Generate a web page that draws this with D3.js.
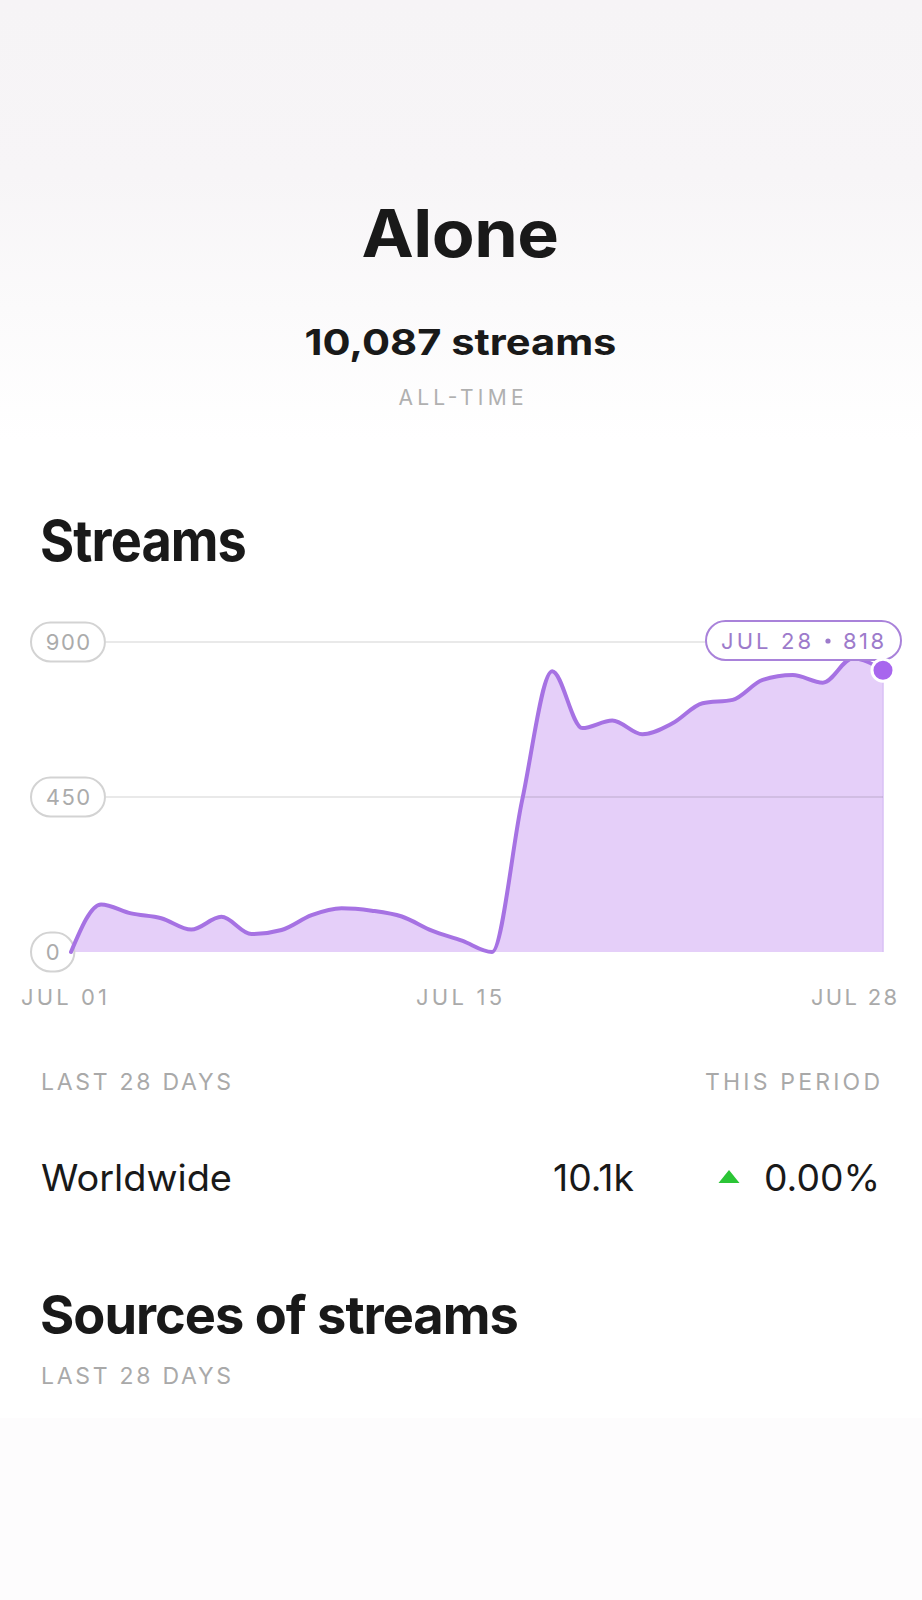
<!DOCTYPE html>
<html><head><meta charset="utf-8">
<script src="https://cdn.jsdelivr.net/npm/d3@7"></script>
<style>
html,body{margin:0;padding:0;background:#fff;}
svg{display:block;font-family:Inter,"Noto Sans",sans-serif;}
</style></head>
<body>
<svg id="c" width="922" height="1600"></svg>
<script>
// ---- data ----
const dayLabels = ["JUL 01","JUL 02","JUL 03","JUL 04","JUL 05","JUL 06","JUL 07","JUL 08","JUL 09","JUL 10","JUL 11","JUL 12","JUL 13","JUL 14","JUL 15","JUL 16","JUL 17","JUL 18","JUL 19","JUL 20","JUL 21","JUL 22","JUL 23","JUL 24","JUL 25","JUL 26","JUL 27","JUL 28"];
const streams = [0,138,112,98,65,102,52,64,107,127,120,103,62,33,0,440,815,650,672,632,664,722,732,790,804,782,853,818];
const yTicks = [0,450,900];
const xTickLabels = ["JUL 01","JUL 15","JUL 28"];
const songTitle = "Alone";
const allTimeStreams = "10,087 streams";
const regionRows = [{name:"Worldwide", value:"10.1k", change:"0.00%"}];

const svg = d3.select("#c");
const W = 922, H = 1600;

// background
const defs = svg.append("defs");
const g1 = defs.append("linearGradient").attr("id","topg").attr("x1",0).attr("y1",0).attr("x2",0).attr("y2",1);
g1.append("stop").attr("offset","0%").attr("stop-color","#f6f4f6");
g1.append("stop").attr("offset","40%").attr("stop-color","#f7f5f7");
g1.append("stop").attr("offset","100%").attr("stop-color","#ffffff");
svg.append("rect").attr("width",W).attr("height",H).attr("fill","#fff");
svg.append("rect").attr("width",W).attr("height",440).attr("fill","url(#topg)");
svg.append("rect").attr("y",1418).attr("width",W).attr("height",H-1418).attr("fill","#fdfcfd");

// letter-spaced fit (for tracked uppercase labels)
function fitText(sel, target){
  if (target) sel.attr("textLength", target).attr("lengthAdjust","spacing");
  return sel;
}
// horizontal scale fit (for display text)
function fitScale(sel, target){
  const xx = +sel.attr("x"), yy = +sel.attr("y");
  const len = sel.node().getComputedTextLength();
  const sx = target / len;
  sel.attr("x",0).attr("y",0).attr("transform",`translate(${xx},${yy}) scale(${sx},1)`);
  return sel;
}

// header
fitScale(svg.append("text").attr("x",460).attr("y",257).attr("text-anchor","middle")
  .attr("font-size",66).attr("font-weight",700).attr("letter-spacing",-0.5).attr("fill","#191919").text(songTitle), 197);
fitScale(svg.append("text").attr("x",460.5).attr("y",355).attr("text-anchor","middle")
  .attr("font-size",36).attr("font-weight",700).attr("fill","#191919").text(allTimeStreams), 312);
fitText(svg.append("text").attr("x",461).attr("y",405).attr("text-anchor","middle")
  .attr("font-size",21).attr("font-weight",400).attr("fill","#b0b0b0").text("ALL-TIME"), 125);

fitScale(svg.append("text").attr("x",40).attr("y",561).attr("font-size",57).attr("font-weight",700)
  .attr("letter-spacing",-1).attr("fill","#191919").text("Streams"), 206);

// ---- chart ----
const x = d3.scaleLinear().domain([0, streams.length-1]).range([71, 883]);
const y = d3.scaleLinear().domain([0, 900]).range([952, 642]);
const xl = d3.scalePoint().domain(xTickLabels).range([64, 854]);

const area = d3.area().x((d,i)=>x(i)).y0(y(0)).y1(d=>y(d)).curve(d3.curveMonotoneX);
const line = d3.line().x((d,i)=>x(i)).y(d=>y(d)).curve(d3.curveMonotoneX);

const chart = svg.append("g");
chart.append("path").datum(streams).attr("d",area).attr("fill","#e5cff9");
chart.append("line").attr("x1",x(streams.length-1)).attr("x2",x(streams.length-1))
  .attr("y1",y(streams[streams.length-1])).attr("y2",y(0)).attr("stroke","#d9c0f4").attr("stroke-width",1.5);

// y ticks: pills + gridlines
const yt = chart.selectAll(".yt").data(yTicks).join("g").attr("class","yt");
yt.each(function(d){
  const g = d3.select(this);
  const cy = y(d);
  const t = g.append("text").attr("y",cy+8).attr("text-anchor","middle").attr("font-size",22)
    .attr("letter-spacing",1.5).attr("fill","#ababab").text(d3.format("d")(d));
  const len = t.node().getComputedTextLength();
  const w = Math.max(40, len + 28);
  const left = 31;
  g.insert("rect","text").attr("x",left).attr("y",cy-19.5).attr("width",w).attr("height",39)
    .attr("rx",19.5).attr("fill","#fff").attr("stroke","#d3d3d3").attr("stroke-width",2);
  t.attr("x", left + w/2 + 0.75);
  if (d > 0) {
    g.append("line").attr("x1",left+w+1).attr("x2",x(streams.length-1)).attr("y1",cy).attr("y2",cy)
      .attr("stroke","rgba(0,0,0,0.085)").attr("stroke-width",2);
  }
});

chart.append("path").datum(streams).attr("d",line).attr("fill","none")
  .attr("stroke","#a672e3").attr("stroke-width",4).attr("stroke-linejoin","round").attr("stroke-linecap","round");

// x labels
chart.selectAll(".xl").data(xTickLabels).join("text").attr("class","xl")
  .attr("x",d=>xl(d)).attr("y",1005).attr("text-anchor","middle").attr("font-size",22)
  .attr("fill","#aaaaaa").text(d=>d)
  .each(function(){ d3.select(this).attr("textLength",86).attr("lengthAdjust","spacing"); });

// tooltip for last point
const li = streams.length-1;
const tipRight = x(li) + 18, tipW = 195, tipCy = 640.5;
const tip = chart.append("g");
tip.append("rect").attr("x",tipRight - tipW).attr("y",tipCy-19.5).attr("width",tipW).attr("height",39)
  .attr("rx",19.5).attr("fill","#fff").attr("stroke","#a982da").attr("stroke-width",2);
const tDate = tip.append("text").attr("x",tipRight - tipW + 15).attr("y",tipCy+8).attr("font-size",22)
  .attr("fill","#9d7bcb").text(dayLabels[li]);
fitText(tDate, 90);
const tVal = tip.append("text").attr("x",tipRight - 17).attr("y",tipCy+8).attr("text-anchor","end").attr("font-size",22)
  .attr("fill","#9d7bcb").text(String(streams[li]));
fitText(tVal, 41);
tip.append("circle").attr("cx",tipRight - 73).attr("cy",tipCy+0.5).attr("r",2.6).attr("fill","#9d7bcb");

chart.append("circle").attr("cx",x(li)).attr("cy",y(streams[li])).attr("r",11)
  .attr("fill","#a866ee").attr("stroke","#fff").attr("stroke-width",3);

// ---- stats ----
fitText(svg.append("text").attr("x",41).attr("y",1090).attr("font-size",23).attr("fill","#a9a9a9").text("LAST 28 DAYS"),190);
fitText(svg.append("text").attr("x",880).attr("y",1090).attr("text-anchor","end").attr("font-size",23).attr("fill","#a9a9a9").text("THIS PERIOD"),175);

const rows = svg.selectAll(".row").data(regionRows).join("g").attr("class","row");
rows.each(function(d){
  const g = d3.select(this);
  fitScale(g.append("text").attr("x",41).attr("y",1191).attr("font-size",37).attr("font-weight",400).attr("fill","#191919").text(d.name),191);
  fitScale(g.append("text").attr("x",634).attr("y",1191).attr("text-anchor","end").attr("font-size",37).attr("fill","#191919").text(d.value),81);
  g.append("path").attr("d","M718.5,1183 L729,1170 L739.5,1183 Z").attr("fill","#2bc536");
  fitScale(g.append("text").attr("x",880).attr("y",1191).attr("text-anchor","end").attr("font-size",37).attr("fill","#191919").text(d.change),116);
});

fitScale(svg.append("text").attr("x",40).attr("y",1334).attr("font-size",53).attr("font-weight",700).attr("letter-spacing",-1).attr("fill","#191919").text("Sources of streams"),478);
fitText(svg.append("text").attr("x",41).attr("y",1384).attr("font-size",23).attr("fill","#a9a9a9").text("LAST 28 DAYS"),190);
</script>
</body></html>
